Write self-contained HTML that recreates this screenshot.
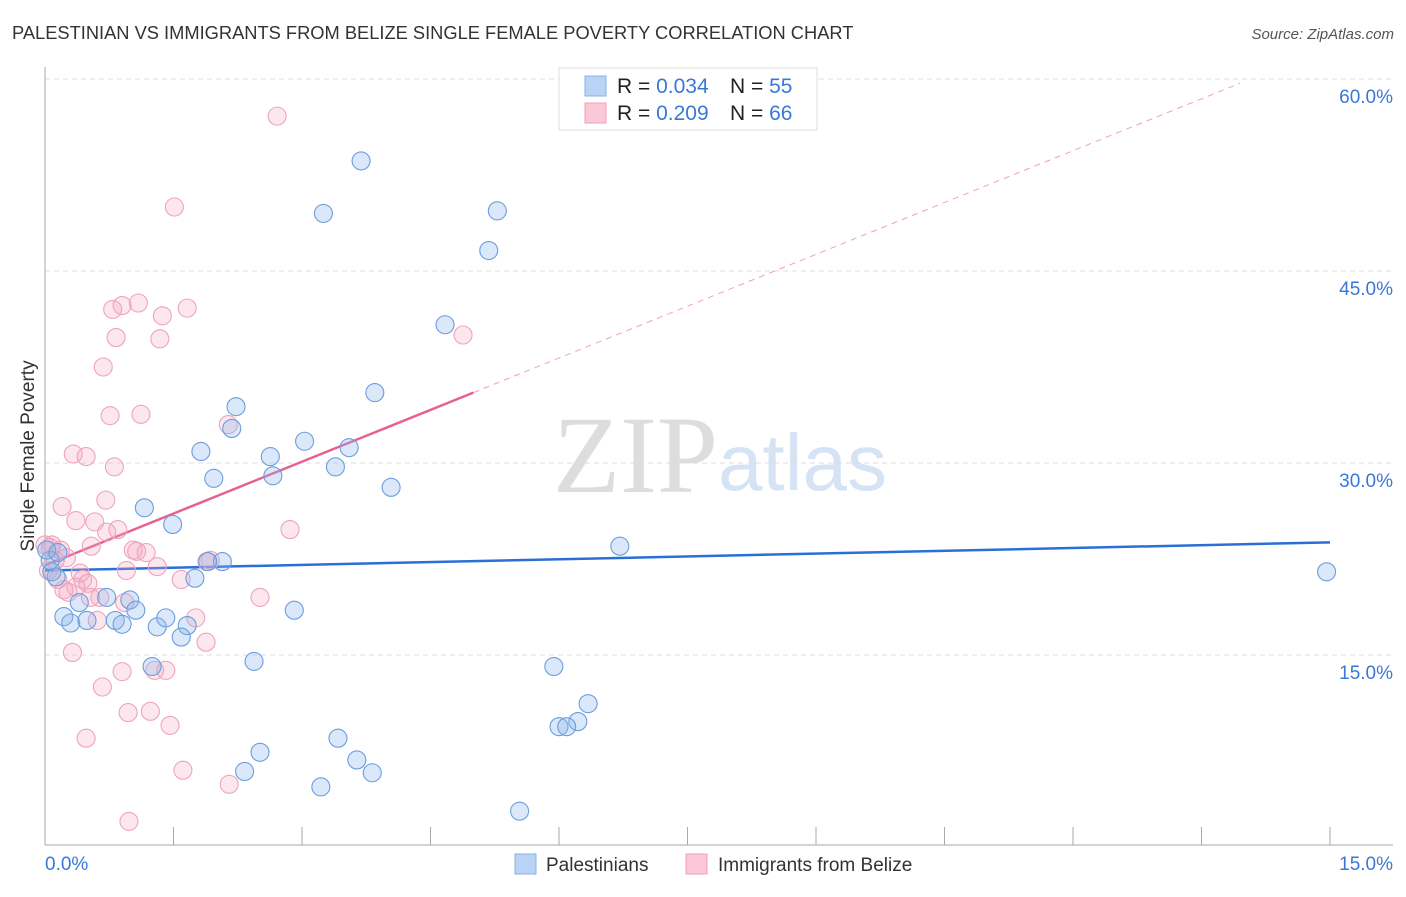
<!DOCTYPE html>
<html><head><meta charset="utf-8"><style>
body{margin:0;background:#fff;font-family:"Liberation Sans",sans-serif;}
svg text{font-family:"Liberation Sans",sans-serif;}
</style></head><body>
<svg id="chart" width="1406" height="892" xmlns="http://www.w3.org/2000/svg">
<text x="12" y="39" font-size="18.3" fill="#333">PALESTINIAN VS IMMIGRANTS FROM BELIZE SINGLE FEMALE POVERTY CORRELATION CHART</text>
<text x="1394" y="39" font-size="15" fill="#555" text-anchor="end" font-style="italic">Source: ZipAtlas.com</text>
<g>
<text x="553" y="492" font-size="110" fill="#ddd" style="font-family:'Liberation Serif',serif">ZIP</text>
<text x="718" y="490" font-size="80" fill="#d5e3f5">atlas</text>
</g>
<g id="grid"></g>
<g id="axes"></g>
<g id="trends"></g>
<g id="points"></g>
<g>
<rect x="559" y="68" width="258" height="62" fill="#fff" stroke="#ddd"/>
<rect x="585" y="76" width="21" height="20" fill="#b9d3f5" stroke="#8ab0e6"/>
<rect x="585" y="103" width="21" height="20" fill="#fac8d7" stroke="#f0a0bb"/>
<text x="617" y="93" font-size="21" fill="#222">R = <tspan fill="#3a78d8">0.034</tspan></text>
<text x="730" y="93" font-size="21" fill="#222">N = <tspan fill="#3a78d8">55</tspan></text>
<text x="617" y="120" font-size="21" fill="#222">R = <tspan fill="#3a78d8">0.209</tspan></text>
<text x="730" y="120" font-size="21" fill="#222">N = <tspan fill="#3a78d8">66</tspan></text>
</g>
<g>
<rect x="515" y="854" width="21" height="20" fill="#b9d3f5" stroke="#8ab0e6"/>
<text x="546" y="871" font-size="19" fill="#333">Palestinians</text>
<rect x="686" y="854" width="21" height="20" fill="#fac8d7" stroke="#f0a0bb"/>
<text x="718" y="871" font-size="19" fill="#333">Immigrants from Belize</text>
</g>
</svg>
<script>
const yTicks=[15,30,45,60];
const yTickLabels=["15.0%","30.0%","45.0%","60.0%"];
const xTicks=[0,1.5,3,4.5,6,7.5,9,10.5,12,13.5,15];
const xEndLabels=["0.0%","15.0%"];
const blueX=[3.69,3.25,5.28,5.18,4.67,3.85,2.23,2.18,3.03,3.55,2.63,1.82,3.39,1.97,2.66,4.04,1.16,1.49,6.71,2.07,1.90,1.75,14.96,0.13,0.40,0.72,0.99,1.06,2.91,0.22,0.30,0.49,0.82,0.90,1.31,1.41,1.66,1.59,1.25,2.44,5.94,6.34,6.22,6.00,6.09,2.51,3.42,2.33,3.64,3.82,3.22,5.54,0.08,0.06,0.02,0.15];
const blueY=[53.6,49.5,49.7,46.6,40.8,35.5,34.4,32.7,31.7,31.2,30.5,30.9,29.7,28.8,29.0,28.1,26.5,25.2,23.5,22.3,22.3,21.0,21.5,21.1,19.1,19.5,19.3,18.5,18.5,18.0,17.5,17.7,17.7,17.4,17.2,17.9,17.3,16.4,14.1,14.5,14.1,11.2,9.8,9.4,9.4,7.4,8.5,5.9,6.8,5.8,4.7,2.8,21.5,22.4,23.2,23.0];
const pinkX=[2.71,1.51,0.79,1.09,0.90,1.37,1.66,0.83,1.34,4.88,0.68,0.76,1.12,2.14,0.33,0.48,0.81,0.71,0.20,0.36,0.58,0.85,0.72,2.86,0.54,1.03,1.18,1.07,1.31,0.95,1.89,0.18,0.06,0.12,0.04,0.25,0.08,0.41,0.22,0.44,0.53,0.36,0.61,1.59,0.93,2.51,1.76,1.88,0.32,0.67,0.90,1.28,1.41,0.97,1.23,1.46,0.48,1.61,2.15,0.98,0.50,0.64,0.27,1.93,0.15,0.00];
const pinkY=[57.1,50.0,42.0,42.5,42.3,41.5,42.1,39.8,39.7,40.0,37.5,33.7,33.8,33.0,30.7,30.5,29.7,27.1,26.6,25.5,25.4,24.8,24.6,24.8,23.5,23.2,23.0,23.1,21.9,21.6,22.3,23.2,23.4,22.4,21.6,22.6,23.6,21.4,20.1,20.9,19.5,20.3,17.7,20.9,19.1,19.5,17.9,16.0,15.2,12.5,13.7,13.8,13.8,10.5,10.6,9.5,8.5,6.0,4.9,2.0,20.6,19.5,19.9,22.4,20.9,23.6];
const blueTrend=[21.6,23.8]; // y at x=0 and x=15
const pinkTrend=[22.0,2.7]; // intercept, slope
const pinkSolidEnd=5.0, pinkDashEnd=13.95;

const NS="http://www.w3.org/2000/svg";
const X=v=>45+v/15*1285;
const Y=v=>847-v/60*768;
function mk(tag,attrs,parent){const e=document.createElementNS(NS,tag);for(const k in attrs)e.setAttribute(k,attrs[k]);document.getElementById(parent).appendChild(e);return e;}

yTicks.forEach((t,i)=>{
  const l=mk('line',{x1:45,x2:1393,y1:Y(t),y2:Y(t),stroke:'#ddd','stroke-dasharray':'5,4'},'grid');
  
  
  const tx=mk('text',{x:1393,y:Y(t)+24,'font-size':19,fill:'#3a78d8','text-anchor':'end'},'grid');
  tx.textContent=yTickLabels[i];
  
  
});
const ya=mk('line',{x1:45,x2:45,y1:67,y2:845,stroke:'#aaa'},'axes');


const xa=mk('line',{x1:45,x2:1393,y1:845,y2:845,stroke:'#aaa'},'axes');


xTicks.forEach(t=>{
  const l=mk('line',{x1:X(t),x2:X(t),y1:827,y2:845,stroke:'#aaa'},'axes');
  
  
});
const xl0=mk('text',{x:45,y:870,'font-size':19,fill:'#3a78d8'},'axes');xl0.textContent=xEndLabels[0];


const xl1=mk('text',{x:1393,y:870,'font-size':19,fill:'#3a78d8','text-anchor':'end'},'axes');xl1.textContent=xEndLabels[1];


const yt=mk('text',{x:0,y:0,'font-size':19,fill:'#333','text-anchor':'middle',transform:'translate(34,456) rotate(-90)'},'axes');yt.textContent='Single Female Poverty';



function dot(x,y,fill,stroke,name){
  const c=mk('circle',{cx:X(x),cy:Y(y),r:9,fill:fill,stroke:stroke,'stroke-width':1.1},'points');
  
  
}
pinkX.forEach((x,i)=>dot(x,pinkY[i],'rgba(245,165,192,0.27)','#efa3bd','point-belize'));
blueX.forEach((x,i)=>dot(x,blueY[i],'rgba(140,182,236,0.32)','#6c9ddf','point-palestinian'));

const bt=mk('line',{x1:X(0),x2:X(15),y1:Y(blueTrend[0]),y2:Y(blueTrend[1]),stroke:'#2a6fd6','stroke-width':2.5},'trends');


const pf=x=>pinkTrend[0]+pinkTrend[1]*x;
const pd=mk('line',{x1:X(pinkSolidEnd),x2:X(pinkDashEnd),y1:Y(pf(pinkSolidEnd)),y2:Y(pf(pinkDashEnd)),stroke:'#f0a0bb','stroke-width':1,'stroke-dasharray':'6,5'},'trends');


const ps=mk('line',{x1:X(0),x2:X(pinkSolidEnd),y1:Y(pf(0)),y2:Y(pf(pinkSolidEnd)),stroke:'#e8608e','stroke-width':2.5},'trends');


</script>
</body></html>
